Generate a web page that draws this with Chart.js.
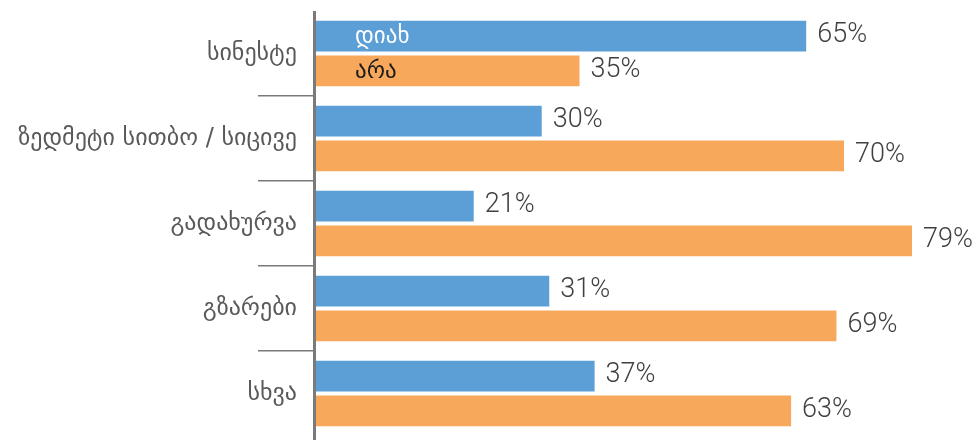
<!DOCTYPE html>
<html lang="ka">
<head>
<meta charset="UTF-8">
<title>chart</title>
<script src="https://cdn.jsdelivr.net/npm/chart.js@4"></script>
<style>
    body { margin: 0; background: #fff; }
    #wrap { width: 977px; height: 440px; }
</style>
</head>
<body>
<div id="wrap"><canvas id="barChart" width="977" height="440"></canvas></div>
<script>
// ====== data ======
const categories = ['სინესტე', 'ზედმეტი სითბო / სიცივე', 'გადახურვა', 'გზარები', 'სხვა'];
const seriesNames = ['დიახ', 'არა'];
const yesValues = [65, 30, 21, 31, 37];
const noValues = [35, 70, 79, 69, 63];

const BLUE = '#5c9fd7';
const ORANGE = '#f7a85b';
const AXIS_GRAY = '#7a7a7a';
const GEO_FONT = "'DejaVu Sans', sans-serif";
const NUM_FONT = "Roboto, 'Open Sans', sans-serif";

// value labels, the series names inside the first bars, and the axis line
const labelPlugin = {
    id: 'barLabels',
    afterDatasetsDraw(chart) {
        const ctx = chart.ctx;
        const area = chart.chartArea;
        ctx.save();

        // percent labels at the end of each bar
        ctx.font = `300 27px ${NUM_FONT}`;
        ctx.fillStyle = '#404040';
        ctx.textAlign = 'left';
        ctx.textBaseline = 'middle';
        chart.data.datasets.forEach((ds, di) => {
            chart.getDatasetMeta(di).data.forEach((bar, i) => {
                ctx.fillText(ds.data[i] + '%', bar.x + 11, bar.y - 1);
            });
        });

        // series names written into the bars of the first category
        ctx.font = `23px ${GEO_FONT}`;
        const colors = ['#ffffff', '#1a1a1a'];
        chart.data.datasets.forEach((ds, di) => {
            const bar = chart.getDatasetMeta(di).data[0];
            ctx.fillStyle = colors[di];
            ctx.fillText(ds.label, area.left + 40, bar.y + 1);
        });

        // vertical axis line (runs to the bottom of the picture)
        ctx.strokeStyle = AXIS_GRAY;
        ctx.lineWidth = 3;
        ctx.beginPath();
        ctx.moveTo(area.left - 0.5, area.top);
        ctx.lineTo(area.left - 0.5, chart.height);
        ctx.stroke();
        ctx.restore();
    }
};

const chart = new Chart(document.getElementById('barChart'), {
    type: 'bar',
    data: {
        labels: categories,
        datasets: [
            { label: seriesNames[0], data: yesValues, backgroundColor: BLUE },
            { label: seriesNames[1], data: noValues, backgroundColor: ORANGE }
        ]
    },
    options: {
        indexAxis: 'y',
        responsive: false,
        animation: false,
        categoryPercentage: 0.82,
        barPercentage: 0.88,
        layout: { padding: { top: 11, bottom: 4, left: 0, right: 0 } },
        plugins: {
            legend: { display: false },
            tooltip: { enabled: false }
        },
        scales: {
            x: {
                display: false,
                min: 0,
                max: 87.6
            },
            y: {
                afterFit: (scale) => { scale.width = 315; },
                border: { display: false },
                grid: {
                    offset: true,
                    drawOnChartArea: false,
                    drawTicks: true,
                    tickLength: 57,
                    lineWidth: 1.5,
                    // hide the separators at the top and bottom edges
                    color: (c) => (c.index === 0 || c.index === undefined) ? 'rgba(0,0,0,0)' : AXIS_GRAY
                },
                ticks: {
                    padding: -39,
                    color: '#595959',
                    font: { family: GEO_FONT, size: 24 }
                }
            }
        }
    },
    plugins: [labelPlugin]
});
</script>
</body>
</html>
